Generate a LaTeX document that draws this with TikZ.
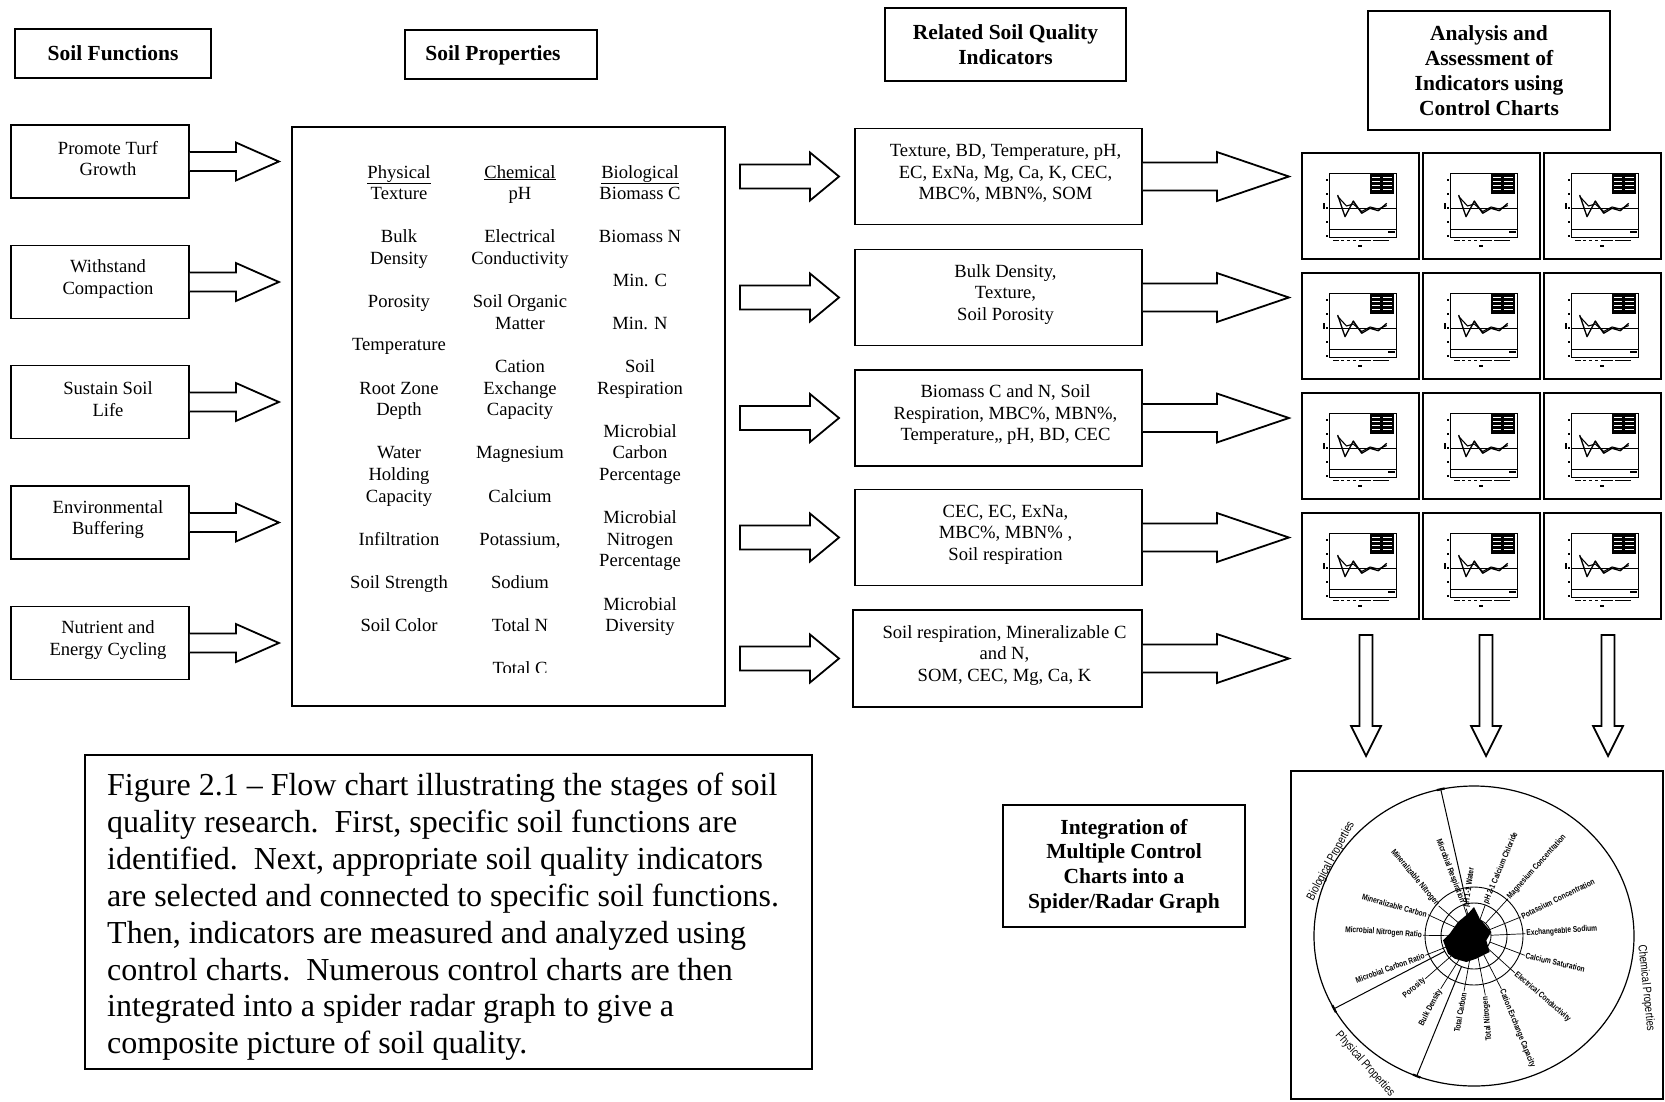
\documentclass[tikz,border=0pt]{standalone}
\usepackage{fontspec}
\setmainfont{Liberation Serif}
\newfontfamily\radarfont[FakeStretch=0.8]{Liberation Sans}
\usetikzlibrary{calc}
\newcommand\bodyfont{\fontsize{18.6}{21.5}\selectfont}
\newcommand\headfont{\fontsize{21.5}{24.8}\selectfont\bfseries}
\newcommand\capfont{\fontsize{32}{37}\selectfont}
\newcommand\spokefont{\radarfont\bfseries\fontsize{8.3}{9}\selectfont}
\newcommand\sectfont{\radarfont\fontsize{12}{13}\selectfont}
% right block arrow attached to a node anchor (open at the start)
\newcommand\rarrowopen[5]{%
  \draw[blk] ($(#1)+(0,-#4)$) -- ++(#2,0) -- ++(0,{#4-#5}) -- ($(#1)+(#3,0)$) -- ($(#1)+(#2,#5)$) -- ++(0,{#4-#5}) -- ($(#1)+(0,#4)$);}
% right block arrow with a free (closed) start
\newcommand\rarrowclosed[5]{%
  \draw[blk] ($(#1)+(0,-#4)$) -- ++(#2,0) -- ++(0,{#4-#5}) -- ($(#1)+(#3,0)$) -- ($(#1)+(#2,#5)$) -- ++(0,{#4-#5}) -- ($(#1)+(0,#4)$) -- cycle;}
% down block arrow
\newcommand\darrow[5]{%
  \draw[blk] ($(#1)+(-#4,0)$) -- ($(#1)+(-#4,#2)$) -- ($(#1)+(-#5,#2)$) -- ($(#1)+(0,#3)$) -- ($(#1)+(#5,#2)$) -- ($(#1)+(#4,#2)$) -- ($(#1)+(#4,0)$) -- cycle;}
\tikzset{
  box/.style={draw, line width=1.8pt, inner sep=0pt, align=center},
  blk/.style={draw, line width=1.8pt, line join=miter, fill=white},
  proptext/.style={anchor=base, font=\bodyfont, inner sep=0pt},
  boxtext/.style={font=\bodyfont, align=center, inner sep=0pt},
  minichart/.pic={
    \draw[line width=2.4pt] (0,0) rectangle (117,106);
    \draw[line width=0.6pt] (27.5,20.5) rectangle (94,84);
    \fill (68,21) rectangle (92,40.5);
    \foreach \yy in {24.5,28.5,32.5,36.5} {
      \draw[white, line width=0.9pt] (70,\yy) -- (78,\yy);
      \draw[white, line width=0.5pt] (81,\yy) -- (90,\yy);
    }
    \draw[line width=0.9pt] (27.5,55.5) -- (94,55.5);
    \draw[line width=0.6pt] (27.5,76.5) -- (94,76.5);
    \fill (86,78.3) rectangle (93,80.3);
    \draw[line width=1.3pt, line join=round] (35.7,42) -- (43,63.7) -- (51.3,48) -- (59.7,60.3) -- (68,55.3) -- (76.3,57.7) -- (84.7,50.3);
    \draw[line width=1.1pt, line join=round] (35.7,43.5) -- (44.5,53) -- (51.3,51) -- (59.7,58.5) -- (68,54) -- (76.3,56) -- (84.7,52.5);
    \foreach \yy in {27,41,55,69,83} {\fill (23.8,\yy-0.7) rectangle (25.6,\yy+0.7);}
    \fill (21.3,50) rectangle (22.8,56);
    \foreach \xx/\ww in {31/6,39/3,45/3,51/3,57/12,71/16} {\fill (\xx,86.5) rectangle (\xx+\ww,87.7);}
    \fill (56,92.3) rectangle (60,93.8);
  }
}
\begin{document}
\begin{tikzpicture}[x=1pt,y=-1pt]
\fill[white] (0,0) rectangle (1665,1101);
\useasboundingbox (0,0) rectangle (1665,1101);

% ---------- headers
\node[box, font=\headfont, minimum width=196, minimum height=49] (hfun) at (113,53.5) {Soil Functions};
\node[box, minimum width=192, minimum height=49] (hprop) at (501,54.5) {};
\node[font=\headfont, inner sep=0pt] (hpropt) at ($(hprop.center)+(-8,1)$) {Soil Properties};
\node[box, font=\headfont, minimum width=241, minimum height=73] (hind) at (1005.5,44.5) {Related Soil Quality\\Indicators};
\node[box, font=\headfont, minimum width=242, minimum height=119] (hana) at (1489,70.5) {Analysis and\\Assessment of\\Indicators using\\Control Charts};

% ---------- soil functions
\foreach \i/\yy/\t in {1/161.5/{Promote Turf\\Growth}, 2/282/{Withstand\\Compaction}, 3/402/{Sustain Soil\\Life}, 4/522.5/{Environmental\\Buffering}, 5/643/{Nutrient and\\Energy Cycling}} {
  \node[box, minimum width=178, minimum height=73] (f\i) at (100,\yy) {};
  \node[boxtext] (ft\i) at ($(f\i.center)+(8,-3)$) {\t};
  \rarrowopen{f\i.east}{46}{89}{9.5}{19}
}

% ---------- soil properties
\node[box, minimum width=433, minimum height=579] (props) at (508.5,416.5) {};
\foreach \k/\t in {0/\underline{Physical}, 1/Texture, 3/Bulk, 4/Density, 6/Porosity, 8/Temperature, 10/Root Zone, 11/Depth, 13/Water, 14/Holding, 15/Capacity, 17/Infiltration, 19/Soil Strength, 21/Soil Color}
  \node[proptext] (pp\k) at (399,{178+21.6*\k}) {\t};
\foreach \k/\t in {0/\underline{Chemical}, 1/pH, 3/Electrical, 4/Conductivity, 6/Soil Organic, 7/Matter, 9/Cation, 10/Exchange, 11/Capacity, 13/Magnesium, 15/Calcium, 17/{Potassium,}, 19/Sodium, 21/Total N}
  \node[proptext] (pc\k) at (520,{178+21.6*\k}) {\t};
\begin{scope}
  \clip (300,640) rectangle (700,672);
  \node[proptext] (pc23) at (520,{178+21.6*23}) {Total C};
\end{scope}
\foreach \k/\t in {0/\underline{Biological}, 1/Biomass C, 3/Biomass N, 5/Min. C, 7/Min. N, 9/Soil, 10/Respiration, 12/Microbial, 13/Carbon, 14/Percentage, 16/Microbial, 17/Nitrogen, 18/Percentage, 20/Microbial, 21/Diversity}
  \node[proptext] (pb\k) at (640,{178+21.6*\k}) {\t};

% ---------- indicators
\foreach \i/\yy in {1/176.5, 2/297.5, 3/418, 4/537.5}
  \node[box, minimum width=287, minimum height=96] (ind\i) at (998.5,\yy) {};
\node[box, minimum width=289, minimum height=97] (ind5) at (997.5,658.5) {};
\node[boxtext] (it1) at ($(ind1.center)+(7,-3)$) {Texture, BD, Temperature, pH,\\EC, ExNa, Mg, Ca, K, CEC,\\MBC\%, MBN\%, SOM};
\node[boxtext] (it2) at ($(ind2.center)+(7,-3)$) {Bulk Density,\\Texture,\\Soil Porosity};
\node[boxtext] (it3) at ($(ind3.center)+(7,-3)$) {Biomass C and N, Soil\\Respiration, MBC\%, MBN\%,\\Temperature,, pH, BD, CEC};
\node[boxtext] (it4) at ($(ind4.center)+(7,-3)$) {CEC, EC, ExNa,\\MBC\%, MBN\% ,\\Soil respiration};
\node[boxtext] (it5) at ($(ind5.center)+(7,-3)$) {Soil respiration, Mineralizable C\\and N,\\SOM, CEC, Mg, Ca, K};

\foreach \i/\yy in {1/176.5, 2/297.5, 3/418, 4/537.5, 5/658.5} {
  \coordinate (pa\i) at (740,\yy);
  \rarrowclosed{pa\i}{70}{99}{12}{24}
  \rarrowopen{ind\i.east}{74}{146}{14}{24.5}
}

% ---------- control charts
\foreach \c in {0,1,2} {
  \foreach \r in {0,1,2,3} {
    \pic at ({1302+121*\c},{153+120*\r}) {minichart};
  }
}

% ---------- down arrows
\foreach \i/\xx in {1/1366, 2/1486, 3/1608} {
  \coordinate (da\i) at (\xx,635);
  \darrow{da\i}{91}{121}{6.5}{15}
}

% ---------- integration box
\node[box, font=\headfont, minimum width=242, minimum height=122] (integ) at (1124,866) {Integration of\\Multiple Control\\Charts into a\\Spider/Radar Graph};

% ---------- caption
\node[box, minimum width=727, minimum height=314] (capbox) at (448.5,912) {};
\foreach \i/\t in {1/{Figure 2.1 – Flow chart illustrating the stages of soil},
  2/{quality research.\enspace{}First, specific soil functions are},
  3/{identified.\enspace{}Next, appropriate soil quality indicators},
  4/{are selected and connected to specific soil functions.},
  5/{Then, indicators are measured and analyzed using},
  6/{control charts.\enspace{}Numerous control charts are then},
  7/{integrated into a spider radar graph to give a},
  8/{composite picture of soil quality.}}
  \node[anchor=base west, font=\capfont, inner sep=0pt] (cap\i) at (107,{795.5+36.9*(\i-1)}) {\t};

% ---------- radar graph
\node[box, minimum width=372, minimum height=328] (radar) at (1477,935) {};
\coordinate (rc) at (1474,936);
\draw[line width=1.2pt] (rc) ellipse [x radius=160, y radius=150];
\foreach \r in {17,33,49} \draw[line width=0.9pt] (rc) circle [radius=\r];
\foreach \i/\px/\py/\rot/\anc/\t in {
  1/-7.7/-27.3/82/west/{pH 1-1 Water},
  2/11.3/-31.3/67/west/{pH 2-1 Calcium Chloride},
  3/34/-37.3/48/west/{Magnesium Concentration},
  4/46.7/-19/26/west/{Potassium Concentration},
  5/51.3/-2.3/4/west/{Exchangeable Sodium},
  6/50.7/19.3/-13/west/{Calcium Saturation},
  7/40.7/36.7/-41/west/{Electrical Conductivity},
  8/27.3/52.7/-68/west/{Cation Exchange Capacity},
  9/11.3/59.3/95/east/{Total Nitrogen},
  10/-10/55.3/80/east/{Total Carbon},
  11/-33.3/52.7/62/east/{Bulk Density},
  12/-48.7/42.7/40/east/{Porosity},
  13/-48.7/19.3/20/east/{Microbial Carbon Ratio},
  14/-51/-0.7/-4/east/{Microbial Nitrogen Ratio},
  15/-46/-21.3/-15/east/{Mineralizable Carbon},
  16/-35.3/-30/-50/east/{Mineralizable Nitrogen},
  17/-11/-32.3/-69/east/{Microbial Respiration}} {
  \coordinate (rp\i) at ($(rc)+(\px,\py)$);
  \draw[line width=0.7pt] ($(rc)!17pt!(rp\i)$) -- (rp\i);
  \node[font=\spokefont, rotate=\rot, anchor=\anc, inner sep=1pt] (rl\i) at (rp\i) {\t};
}
\fill[shift={(rc)}] (0,-29) -- (5.7,-17.3) -- (17.3,-4) -- (12.3,4.3) -- (15.7,16) -- (2.3,22.7) -- (-7.7,26) -- (-19.3,22.7) -- (-26,17.7) -- (-31,4.3) -- (-24.3,-2.3) -- (-16,-14) -- (-6,-22.3) -- cycle;
\foreach \j/\ang in {1/102, 2/209, 3/249} {
  \coordinate (re\j) at ($(rc)+({160*cos(\ang)},{-150*sin(\ang)})$);
  \draw[line width=1pt] ($(rc)!33pt!(re\j)$) -- (re\j);
  \draw[line width=2.2pt] ($(re\j)!4pt!90:(rc)$) -- ($(re\j)!4pt!-90:(rc)$);
}
\node[font=\sectfont, rotate=62, inner sep=0pt] (sbio) at ($(rc)+(-143,-75)$) {Biological Properties};
\node[font=\sectfont, rotate=-84, inner sep=0pt] (schem) at ($(rc)+(172,52)$) {Chemical Properties};
\node[font=\sectfont, rotate=-48, inner sep=0pt] (sphys) at ($(rc)+(-109,128)$) {Physical Properties};
\end{tikzpicture}
\end{document}
